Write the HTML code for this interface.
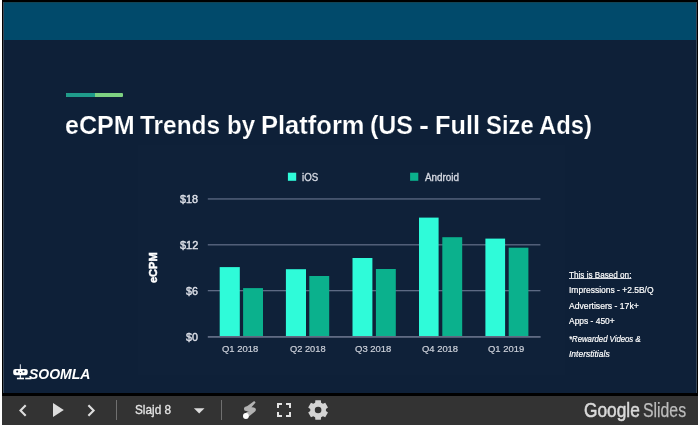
<!DOCTYPE html>
<html><head><meta charset="utf-8"><title>eCPM Trends by Platform</title>
<style>
html,body{margin:0;padding:0;}
body{width:699px;height:425px;background:#fff;position:relative;overflow:hidden;font-family:"Liberation Sans",sans-serif;}
#frame{position:absolute;left:2px;top:0;width:695.7px;height:425px;background:#000;}
#slide{position:absolute;left:3px;top:2px;width:694px;height:391px;background:#0e2038;overflow:hidden;}
#slide:before{content:"";position:absolute;left:0;top:0;width:1px;height:100%;background:#3a4858;z-index:5;}
#slide:after{content:"";position:absolute;right:0;top:0;width:1px;height:100%;background:#3a4858;z-index:5;}
#banner{position:absolute;left:0;top:0;width:100%;height:38px;background:#014a6b;border-top:1px solid #124454;box-sizing:border-box;}
#accent{position:absolute;left:63px;top:91px;width:57.3px;height:4px;background:#7ed181;border-radius:1px;}
#accent i{display:block;width:29.2px;height:4px;background:#1f9b8b;border-radius:1px 0 0 1px;}
#chart{position:absolute;left:0;top:0;}
.w{position:absolute;white-space:nowrap;transform-origin:0 0;display:block;}
.t{font-size:25px;line-height:30px;font-weight:bold;color:#fff;-webkit-text-stroke:0.2px #0e2038;}
.yl{font-size:11px;line-height:12px;color:#dde0e8;-webkit-text-stroke:0.4px #dde0e8;}
.xl{font-size:9.7px;line-height:12px;color:#cdd1da;-webkit-text-stroke:0.2px #cdd1da;}
.lt{font-size:10px;line-height:12px;color:#d3d7e0;-webkit-text-stroke:0.35px #d3d7e0;}
.n{font-size:8.8px;line-height:12px;color:#fff;-webkit-text-stroke:0.2px #fff;}
.n.it{font-style:italic;}
.n.u{text-decoration:underline;text-decoration-thickness:1px;text-underline-offset:0px;text-decoration-color:#d8dbe2;}
#ylab{position:absolute;left:136px;top:260.7px;width:28px;height:12px;font-size:11px;line-height:12px;font-weight:bold;color:#fff;-webkit-text-stroke:0.5px #fff;transform:rotate(-90deg);transform-origin:50% 50%;text-align:center;white-space:nowrap;}
.lg{font-size:15.2px;line-height:18px;font-weight:bold;font-style:italic;color:#fff;}
#bar{position:absolute;left:2px;top:396px;width:695.7px;height:29px;background:#333333;}
#bar .sep{position:absolute;top:4px;width:1px;height:20px;background:#707070;}
.sl{font-size:12.2px;line-height:14px;color:#e4e4e4;-webkit-text-stroke:0.3px #e4e4e4;}
.gs{font-size:19.4px;line-height:22px;color:#bdbdbd;-webkit-text-stroke:0.25px #bdbdbd;}
.gg{font-size:20.6px;line-height:22px;color:#dadada;-webkit-text-stroke:0.55px #dadada;}
#icons{position:absolute;left:0;top:0;}
#robot{position:absolute;left:0;top:0;}
</style></head>
<body>
<div id="frame"></div>
<div id="slide">
<div id="banner"></div>
<div id="accent"><i></i></div>
<svg id="chart" width="693" height="391" viewBox="3 2 693 391">
<rect x="137.5" y="145" width="427.5" height="230" fill="#0f2139"/>
<rect x="207.8" y="198.3" width="332.6" height="1.3" fill="#5d6a84"/>
<rect x="207.8" y="244.15" width="332.6" height="1.3" fill="#5d6a84"/>
<rect x="207.8" y="290" width="332.6" height="1.3" fill="#5d6a84"/>
<rect x="219.7" y="267.1" width="20.1" height="69.3" fill="#2ffbd9"/>
<rect x="243.1" y="288.1" width="19.9" height="48.3" fill="#0bb18d"/>
<rect x="285.9" y="269.2" width="20.1" height="67.2" fill="#2ffbd9"/>
<rect x="309.3" y="276" width="19.9" height="60.4" fill="#0bb18d"/>
<rect x="352.5" y="258" width="19.9" height="78.4" fill="#2ffbd9"/>
<rect x="375.9" y="269" width="19.9" height="67.4" fill="#0bb18d"/>
<rect x="419" y="217.6" width="19.6" height="118.8" fill="#2ffbd9"/>
<rect x="442.3" y="237.2" width="19.9" height="99.2" fill="#0bb18d"/>
<rect x="485.4" y="238.6" width="19.7" height="97.8" fill="#2ffbd9"/>
<rect x="508.7" y="247.7" width="19.7" height="88.7" fill="#0bb18d"/>
<rect x="207.8" y="336" width="332.8" height="1.8" fill="#606b83"/>
<rect x="287.9" y="172.7" width="8.3" height="8.1" fill="#2ffbd9"/>
<rect x="410.1" y="172.7" width="8.2" height="8.1" fill="#0bb18d"/>
</svg>
<h1 style="margin:0;font-size:inherit;font-weight:inherit">
<span class="w t" style="left:61.6px;top:107.6px;transform:scaleX(1.0037);">eCPM</span>
<span class="w t" style="left:136.86px;top:107.6px;transform:scaleX(0.9771);">Trends</span>
<span class="w t" style="left:223.55px;top:107.6px;transform:scaleX(0.9636);">by</span>
<span class="w t" style="left:258.21px;top:107.6px;transform:scaleX(1.0209);">Platform</span>
<span class="w t" style="left:367.25px;top:107.6px;transform:scaleX(0.9988);">(US</span>
<span class="w t" style="left:415.7px;top:107.6px;transform:scaleX(1.2000);">-</span>
<span class="w t" style="left:431.73px;top:107.6px;transform:scaleX(1.0122);">Full</span>
<span class="w t" style="left:482.79px;top:107.6px;transform:scaleX(0.9526);">Size</span>
<span class="w t" style="left:536.29px;top:107.6px;transform:scaleX(0.9533);">Ads)</span>
</h1>
<span class="w lt" style="left:299.47px;top:169.7px;transform:scaleX(0.9677);">iOS</span>
<span class="w lt" style="left:421.8px;top:169.7px;transform:scaleX(0.9882);">Android</span>
<span class="w yl" style="left:177.25px;top:191.1px;transform:scaleX(0.9803);">$18</span>
<span class="w yl" style="left:177.25px;top:237px;transform:scaleX(0.9943);">$12</span>
<span class="w yl" style="left:183.46px;top:282.9px;transform:scaleX(0.9739);">$6</span>
<span class="w yl" style="left:183.46px;top:329.1px;transform:scaleX(0.9739);">$0</span>
<span class="w xl" style="left:219.11px;top:341.4px;transform:scaleX(0.9738);">Q1 2018</span>
<span class="w xl" style="left:286.82px;top:341.4px;transform:scaleX(0.9572);">Q2 2018</span>
<span class="w xl" style="left:352.41px;top:341.4px;transform:scaleX(0.9793);">Q3 2018</span>
<span class="w xl" style="left:419.11px;top:341.4px;transform:scaleX(0.9710);">Q4 2018</span>
<span class="w xl" style="left:485.21px;top:341.4px;transform:scaleX(0.9738);">Q1 2019</span>
<div id="ylab">eCPM</div>
<span class="w n u" style="left:566.07px;top:267px;transform:scaleX(0.9248);">This is Based on:</span>
<span class="w n" style="left:565.98px;top:282.4px;transform:scaleX(0.9637);">Impressions - +2.5B/Q</span>
<span class="w n" style="left:566.3px;top:297.7px;transform:scaleX(0.9809);">Advertisers - 17k+</span>
<span class="w n" style="left:566.3px;top:312.9px;transform:scaleX(0.9587);">Apps - 450+</span>
<span class="w n it" style="left:566.26px;top:330.6px;transform:scaleX(0.8837);">*Rewarded Videos &amp;</span>
<span class="w n it" style="left:566.06px;top:345.9px;transform:scaleX(0.9663);">Interstitials</span>
<svg id="robot" width="693" height="391" viewBox="3 2 693 391">
<g fill="#fff" stroke="none">
<rect x="19.8" y="364.3" width="1.1" height="5" fill="#d5dbe4"/>
<rect x="13.2" y="368.9" width="14.5" height="6.3" rx="2.2"/>
<rect x="19.7" y="375" width="1.3" height="3" fill="#e4e8ee"/>
<rect x="16.9" y="377.7" width="7.1" height="1.6"/>
<rect x="25.2" y="377.7" width="6.2" height="1.6"/>
</g>
<g fill="#0e2038"><circle cx="17.2" cy="371.5" r="1.05"/><circle cx="23.5" cy="371.5" r="1.05"/><circle cx="20.4" cy="372.5" r="0.5"/></g>
</svg>
<span class="w lg" style="left:26.07px;top:363.3px;transform:scaleX(0.9211);">SOOMLA</span>
</div>
<div id="bar">
<div class="sep" style="left:114px"></div>
<div class="sep" style="left:219px"></div>
<svg id="icons" width="696" height="29" viewBox="2 396 696 29">
<g fill="none" stroke="#dedede" stroke-width="2.1" stroke-linejoin="miter" stroke-linecap="butt">
<path d="M25.7 405.3 L20.5 410.5 L25.7 415.7"/>
<path d="M88.4 405.3 L93.6 410.5 L88.4 415.7"/>
</g>
<path d="M53 403.1 L63.8 410 L53 416.9 Z" fill="#dcdcdc"/>
<path d="M193.9 408.2 H204.5 L199.2 413.6 Z" fill="#dcdcdc"/>
<g fill="#e2e2e2">
<path d="M277 403h5v2h-3v3h-2z M291 403v5h-2v-3h-3v-2z M277 417v-5h2v3h3v2z M291 417h-5v-2h3v-3h2z"/>
</g>
<g fill="none" stroke="#b2b2b2" stroke-linecap="round" stroke-linejoin="round">
<path d="M246.3 408.7 L253.6 409.7 L246.2 415.6" stroke-width="4.6"/>
</g>
<path d="M254.2 401.1 L255.6 402.6 L248.6 410.4 L244 408.6 Z" fill="#b2b2b2"/>
<circle cx="245.9" cy="416" r="2.9" fill="#fff"/>
<g transform="translate(318.1 410)">
<path id="gear" fill="#d4d4d4" fill-rule="evenodd" d="M-2.98 -7.31 L-2.74 -9.82 L2.74 -9.82 L2.98 -7.31 L4.84 -6.24 L7.14 -7.29 L9.88 -2.54 L7.83 -1.07 L7.83 1.07 L9.88 2.54 L7.14 7.29 L4.84 6.24 L2.98 7.31 L2.74 9.82 L-2.74 9.82 L-2.98 7.31 L-4.84 6.24 L-7.14 7.29 L-9.88 2.54 L-7.83 1.07 L-7.83 -1.07 L-9.88 -2.54 L-7.14 -7.29 L-4.84 -6.24 Z M3.30 0 A3.30 3.30 0 1 0 -3.30 0 A3.30 3.30 0 1 0 3.30 0 Z"/>
</g>
</svg>
<span class="w sl" style="left:132.72px;top:7.2px;transform:scaleX(0.9683);">Slajd 8</span><span class="w gg" style="left:581.96px;top:3px;transform:scaleX(0.8403);">Google</span><span class="w gs" style="left:641.38px;top:3px;transform:scaleX(0.8156);">Slides</span>
</div>
</body></html>
